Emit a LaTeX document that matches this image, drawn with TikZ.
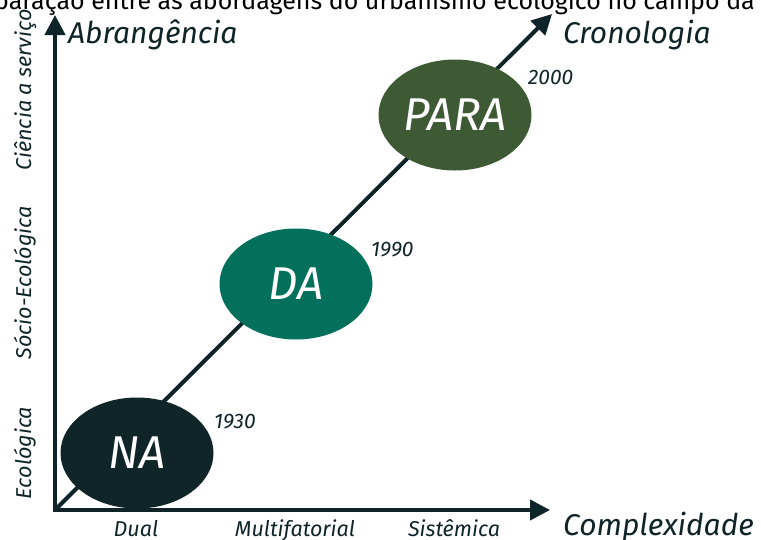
\documentclass[tikz,border=0pt]{standalone}
\usepackage{fontspec}
\setmainfont{Fira Sans}
\usetikzlibrary{arrows.meta,shapes.geometric}
\definecolor{ink}{HTML}{0E2428}
\definecolor{naC}{HTML}{0F2528}
\definecolor{daC}{HTML}{03705C}
\definecolor{paraC}{HTML}{3D5A34}
\begin{document}
\begin{tikzpicture}[x=1pt,y=-1pt,
  axis/.style={draw=ink,line width=4pt,-{Triangle[length=20pt,width=20pt]}},
  blob/.style={ellipse,minimum width=153pt,minimum height=111pt,inner sep=0pt,text=white,font=\itshape\fontsize{46}{46}\selectfont},
  axlab/.style={text=ink,font=\itshape\fontsize{30}{30}\selectfont,inner sep=0pt},
  ticklab/.style={text=ink,font=\itshape\fontsize{21.5}{21.5}\selectfont,inner sep=0pt},
  yearlab/.style={text=ink,font=\itshape\fontsize{21}{21}\selectfont,inner sep=0pt}]
\useasboundingbox (0,0) rectangle (761,539);
\clip (0,0) rectangle (761,539);
\fill[white] (0,0) rectangle (761,539);
% caption cut at top
\node[anchor=base west,inner sep=0pt,font=\fontsize{25}{25}\selectfont] (cap) at (-6,9) {paração entre as abordagens do urbanismo ecológico no campo da ce};
% axes
\coordinate (o) at (55,510);
\coordinate (ytip) at (55,15);
\coordinate (xtip) at (550,510);
\coordinate (dtip) at (552,14);
\draw[axis] (o) -- (dtip);
% ellipses
\node[blob,fill=naC] (na) at (137,453) {NA};
\node[blob,fill=daC] (da) at (296,284) {DA};
\node[blob,fill=paraC] (para) at (455,115) {PARA};
\draw[axis] ([yshift=-2pt]o) -- (ytip);
\draw[axis] ([xshift=-2pt]o) -- (xtip);
% axis labels
\node[axlab,anchor=base west] (abr) at (68,43) {Abrangência};
\node[axlab,anchor=base west] (cro) at (563,43) {Cronologia};
\node[axlab,anchor=base west] (com) at (563,535) {Complexidade};
% x ticks
\node[ticklab,anchor=base] (dual) at (136,536) {Dual};
\node[ticklab,anchor=base] (multi) at (295,536) {Multifatorial};
\node[ticklab,anchor=base] (sist) at (454,536) {Sistêmica};
% y ticks
\node[ticklab,anchor=base,rotate=90] (eco) at (31,453) {Ecológica};
\node[ticklab,anchor=base,rotate=90] (socio) at (31,283) {Sócio-Ecológica};
\node[ticklab,anchor=base,rotate=90] (cien) at (31,90) {Ciência a serviço};
% years
\node[yearlab,anchor=base west] (y1) at (214,428) {1930};
\node[yearlab,anchor=base west] (y2) at (371,256) {1990};
\node[yearlab,anchor=base west] (y3) at (528,84) {2000};
\end{tikzpicture}
\end{document}
